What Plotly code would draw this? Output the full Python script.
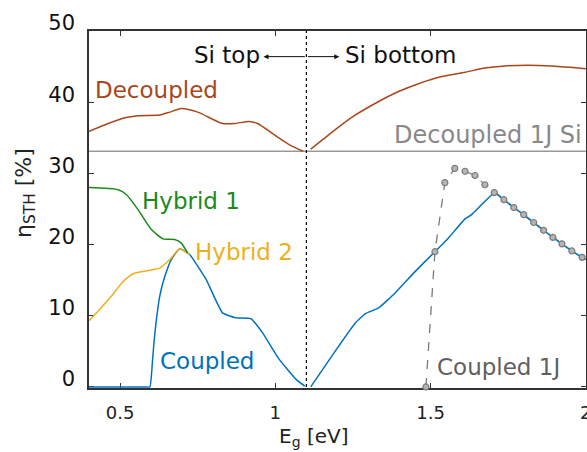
import plotly.graph_objects as go

# ---------------- data ----------------
dec_left_x = [0.40, 0.45, 0.515, 0.558, 0.628, 0.66, 0.697, 0.75, 0.83, 0.868, 0.916, 0.943, 1.007, 1.05, 1.09]
dec_left_y = [35.9, 36.8, 37.8, 38.1, 38.2, 38.6, 39.1, 38.6, 37.0, 37.0, 37.3, 37.0, 35.1, 33.9, 33.1]

dec_right_x = [1.114, 1.183, 1.247, 1.333, 1.397, 1.461, 1.536, 1.611, 1.675, 1.739, 1.813, 1.888, 1.95, 2.0]
dec_right_y = [33.4, 35.8, 37.9, 40.1, 41.5, 42.6, 43.6, 44.2, 44.8, 45.1, 45.2, 45.1, 44.9, 44.7]

dec1j_x = [0.40, 2.0]
dec1j_y = [33.1, 33.1]

hyb1_x = [0.40, 0.494, 0.521, 0.558, 0.601, 0.638, 0.676, 0.697, 0.718]
hyb1_y = [28.0, 27.7, 27.0, 24.9, 22.1, 20.8, 20.7, 20.2, 18.8]

hyb2_x = [0.40, 0.435, 0.473, 0.51, 0.542, 0.596, 0.628, 0.66, 0.692, 0.724]
hyb2_y = [9.3, 10.9, 12.8, 14.8, 15.9, 16.4, 16.7, 17.9, 19.4, 18.6]

coupled_left_x = [0.40, 0.50, 0.58, 0.596, 0.605, 0.612, 0.628, 0.644, 0.665, 0.692, 0.724, 0.777, 0.83, 0.873,
                  0.921, 0.959, 1.012, 1.066, 1.095]
coupled_left_y = [0, 0, 0, 0, 4.0, 7.5, 12.8, 15.5, 17.9, 19.4, 18.6, 15.1, 10.4, 9.7,
                  9.6, 7.6, 3.9, 1.1, 0.1]
coupled_right_x = [1.114, 1.183, 1.258, 1.29, 1.333, 1.386, 1.45, 1.514, 1.557, 1.611, 1.632, 1.707,
                   1.736, 1.768, 1.8, 1.832, 1.864, 1.894, 1.923, 1.955, 1.988, 2.0]
coupled_right_y = [0, 4.4, 9.0, 10.3, 11.1, 13.2, 16.2, 19.0, 20.9, 23.6, 24.2, 27.3,
                   26.3, 25.2, 24.2, 23.1, 22.0, 21.0, 20.1, 19.1, 18.2, 17.9]

c1j_x = [1.485, 1.514, 1.546, 1.578, 1.611, 1.643, 1.675, 1.705, 1.736, 1.768, 1.8, 1.832,
         1.864, 1.894, 1.923, 1.955, 1.988]
c1j_y = [0, 19.0, 28.7, 30.7, 30.3, 29.7, 28.4, 27.3, 26.3, 25.2, 24.2, 23.1,
         22.0, 21.0, 20.1, 19.1, 18.2]

si_gap = 1.1
x_ticks = [0.5, 1, 1.5, 2]
x_tick_text = ["0.5", "1", "1.5", "2"]
y_ticks = [0, 10, 20, 30, 40, 50]

# ---------------- style ----------------
C_DEC = "#A8471B"
C_H1 = "#1A8A1A"
C_H2 = "#EDB120"
C_CPL = "#0072BD"
C_G1 = "#999999"
C_G2 = "#7A7A7A"
FONT = "DejaVu Sans"

fig = go.Figure()

fig.add_trace(go.Scatter(x=dec1j_x, y=dec1j_y, mode="lines", line=dict(color=C_G1, width=1.5)))
fig.add_trace(go.Scatter(x=dec_left_x, y=dec_left_y, mode="lines", line=dict(color=C_DEC, width=1.5, shape="spline", smoothing=0.6)))
fig.add_trace(go.Scatter(x=dec_right_x, y=dec_right_y, mode="lines", line=dict(color=C_DEC, width=1.5, shape="spline", smoothing=0.6)))
fig.add_trace(go.Scatter(x=c1j_x, y=c1j_y, mode="lines", line=dict(color=C_G2, width=1.3, dash="dash")))
fig.add_trace(go.Scatter(x=coupled_left_x, y=coupled_left_y, mode="lines",
                         line=dict(color=C_CPL, width=1.5, shape="spline", smoothing=0.4)))
fig.add_trace(go.Scatter(x=coupled_right_x, y=coupled_right_y, mode="lines",
                         line=dict(color=C_CPL, width=1.5, shape="spline", smoothing=0.3)))
fig.add_trace(go.Scatter(x=hyb2_x, y=hyb2_y, mode="lines", line=dict(color=C_H2, width=1.5, shape="spline", smoothing=0.5)))
fig.add_trace(go.Scatter(x=hyb1_x, y=hyb1_y, mode="lines", line=dict(color=C_H1, width=1.5, shape="spline", smoothing=0.5)))
fig.add_trace(go.Scatter(x=c1j_x, y=c1j_y, mode="markers", cliponaxis=False,
                         marker=dict(size=6, color="#B5B5B5", line=dict(color="#7A7A7A", width=1.2))))

# vertical dotted line at Si band gap
fig.add_shape(type="line", x0=si_gap, x1=si_gap, y0=0, y1=50, xref="x", yref="y",
              line=dict(color="black", width=1.2, dash="dot"))

ann = []
def txt(x, y, s, color, size=23, xanchor="left", yanchor="middle"):
    ann.append(dict(x=x, y=y, xref="x", yref="y", text=s, showarrow=False,
                    xanchor=xanchor, yanchor=yanchor,
                    font=dict(family=FONT, size=size, color=color)))

txt(0.413, 41.7, "Decoupled", C_DEC)
txt(1.377, 35.4, "Decoupled 1J Si", "#888888", size=24)
txt(0.564, 26.1, "Hybrid 1", C_H1)
txt(0.736, 19.0, "Hybrid 2", C_H2)
txt(0.623, 3.6, "Coupled", C_CPL)
txt(1.514, 2.8, "Coupled 1J", "#5F5F5F")
txt(0.956, 46.6, "Si top", "#111111", xanchor="right")
txt(1.219, 46.6, "Si bottom", "#111111")

# arrows from dotted line
for head in (0.962, 1.206):
    ann.append(dict(x=head, y=46.4, ax=si_gap, ay=46.4, xref="x", yref="y", axref="x", ayref="y",
                    text="", showarrow=True, arrowhead=2, arrowsize=1, arrowwidth=1,
                    arrowcolor="#111111", standoff=0, startstandoff=0))

# axis titles
ann.append(dict(x=0.451, y=-0.137, xref="paper", yref="paper", showarrow=False,
                text="E<sub>g</sub> [eV]", xanchor="center", yanchor="middle",
                font=dict(family=FONT, size=20, color="#222222")))
ann.append(dict(x=-0.129, y=0.546, xref="paper", yref="paper", showarrow=False,
                text="η<sub>STH</sub> [%]", textangle=-90, xanchor="center", yanchor="middle",
                font=dict(family=FONT, size=22, color="#222222")))

fig.update_layout(
    width=587, height=452,
    margin=dict(l=89, r=1, t=31, b=64, autoexpand=False),
    paper_bgcolor="white", plot_bgcolor="white",
    showlegend=False,
    annotations=ann,
)
fig.update_xaxes(range=[0.4, 2.0005], tickvals=x_ticks, ticktext=x_tick_text, automargin=False,
                 showgrid=False, zeroline=False, showline=True, linecolor="#333333", linewidth=1.5,
                 mirror="ticks", ticks="inside", ticklen=5, tickcolor="#333333",
                 tickfont=dict(family=FONT, size=18, color="#222222"), ticklabelstandoff=8,
                 ticklabeloverflow="allow", layer="below traces")
fig.update_yaxes(range=[-0.15, 50], tickvals=y_ticks, automargin=False,
                 showgrid=False, zeroline=False, showline=True, linecolor="#333333", linewidth=1.5,
                 mirror="ticks", ticks="inside", ticklen=5, tickcolor="#333333",
                 tickfont=dict(family=FONT, size=21, color="#111111"), ticklabelstandoff=8,
                 ticklabelshift=-8, ticklabeloverflow="allow", layer="below traces")

fig.write_html("out.html")
